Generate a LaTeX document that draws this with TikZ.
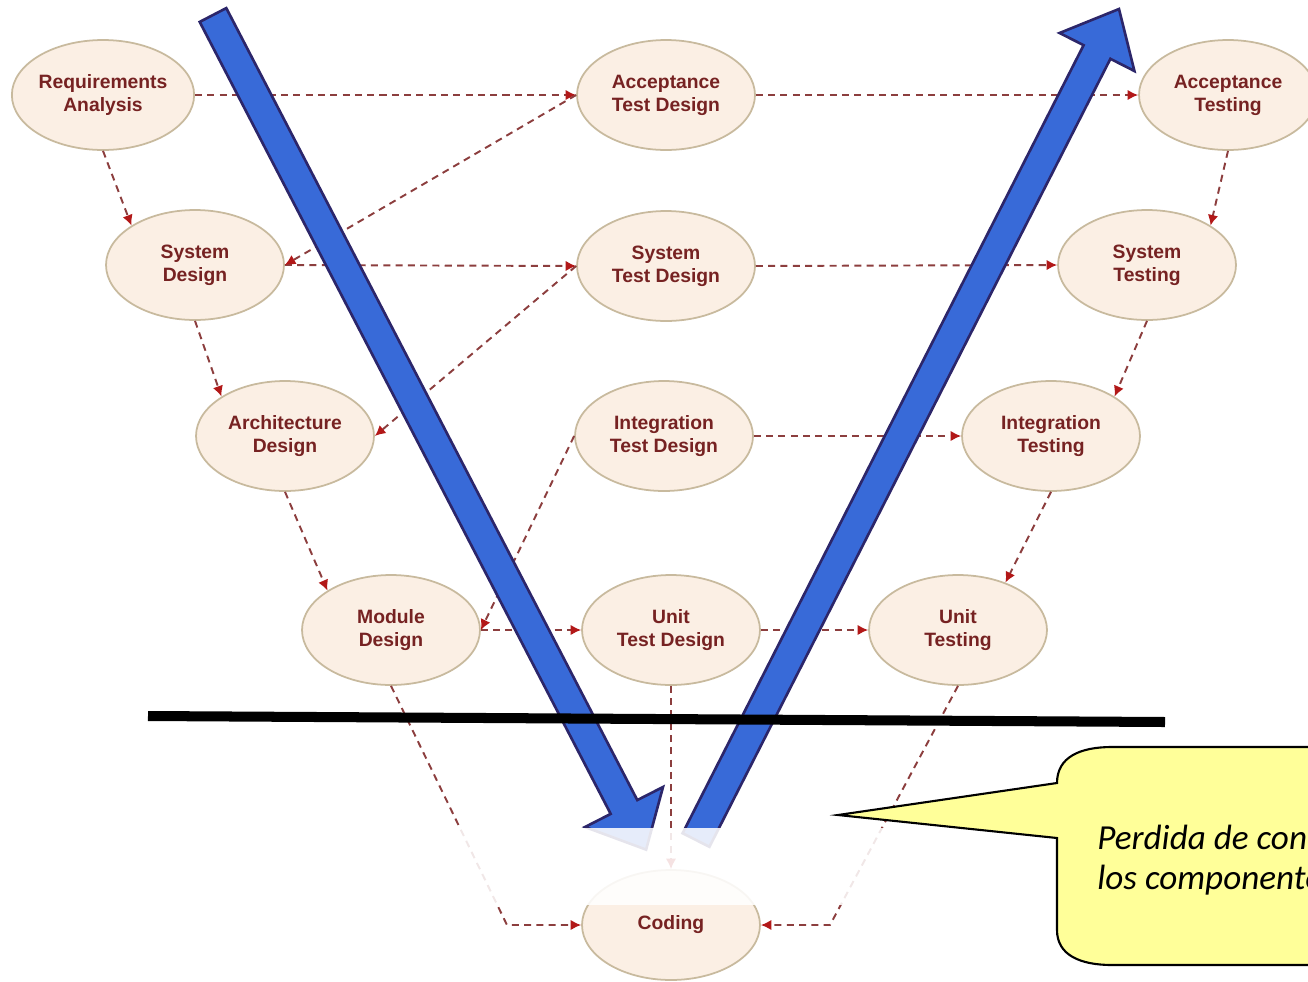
\documentclass[tikz,border=0pt]{standalone}
\usepackage{fontspec}
\setmainfont{Liberation Sans}
\newfontfamily\notafont{Carlito}
\usetikzlibrary{shapes.geometric,arrows.meta}

\definecolor{colfase}{RGB}{251,239,228}
\definecolor{colborde}{RGB}{200,186,158}
\definecolor{coltexto}{RGB}{118,34,34}
\definecolor{collinea}{RGB}{140,62,62}
\definecolor{colpunta}{RGB}{178,24,24}
\definecolor{colazul}{RGB}{56,106,216}
\definecolor{colazulb}{RGB}{44,38,106}
\definecolor{colnota}{RGB}{255,255,153}

\begin{document}
\begin{tikzpicture}[x=0.02cm, y=-0.02cm,
    fase/.style={ellipse, draw=colborde, fill=colfase, line width=1pt,
      minimum width=3.56cm, minimum height=2.2cm, inner sep=0pt, align=center,
      text=coltexto, font=\fontsize{11}{13}\selectfont\bfseries},
    flecha/.style={draw=collinea, line width=1.1pt, dash pattern=on 4pt off 3pt,
      -{Latex[length=6pt,width=6pt,color=colpunta]}},
    bloque/.style={fill=colazul, draw=colazulb, line width=1.5pt, line join=miter}]
    \useasboundingbox (0,0) rectangle (1308,981);
    \clip (0,0) rectangle (1308,981);

    % Dibuja las fases del lado izquierdo
    \node[fase] (req) at (103,95) {Requirements\\Analysis};
    \node[fase] (sd) at (195,265) {System\\Design};
    \node[fase] (ad) at (285,436) {Architecture\\Design};
    \node[fase] (md) at (391,630) {Module\\Design};

    % Dibuja las fases del centro
    \node[fase] (atd) at (666,95) {Acceptance\\Test Design};
    \node[fase] (std) at (666,266) {System\\Test Design};
    \node[fase] (itd) at (664,436) {Integration\\Test Design};
    \node[fase] (utd) at (671,630) {Unit\\Test Design};
    \node[fase] (cod) at (671,925) {Coding};

    % Dibuja las fases del lado derecho
    \node[fase] (at) at (1228,95) {Acceptance\\Testing};
    \node[fase] (st) at (1147,265) {System\\Testing};
    \node[fase] (it) at (1051,436) {Integration\\Testing};
    \node[fase] (ut) at (958,630) {Unit\\Testing};

    \coordinate (mdc) at (507,925);
    \coordinate (utc) at (830,925);

    % Flechas hacia abajo y hacia arriba
    \draw[flecha] (req.south) -- (sd.north west);
    \draw[flecha] (sd.south) -- (ad.north west);
    \draw[flecha] (ad.south) -- (md.north west);
    \draw[flecha] (at.south) -- (st.north east);
    \draw[flecha] (st.south) -- (it.north east);
    \draw[flecha] (it.south) -- (ut.45);

    % Flechas horizontales
    \draw[flecha] (req.east) -- (atd.west);
    \draw[flecha] (atd.east) -- (at.west);
    \draw[flecha] (sd.east) -- (std.west);
    \draw[flecha] (std.east) -- (st.west);
    \draw[flecha] (itd.east) -- (it.west);
    \draw[flecha] (md.east) -- (utd.west);
    \draw[flecha] (utd.east) -- (ut.west);

    % Flechas de las fases de prueba hacia el diseno
    \draw[flecha] (atd.west) -- (sd.east);
    \draw[flecha] (std.west) -- (ad.east);
    \draw[flecha] (itd.west) -- (md.east);

    % Flechas hacia Coding
    \draw[flecha] (md.south) -- (mdc) -- (cod.west);
    \draw[flecha] (utd.south) -- (cod.north);
    \draw[flecha] (ut.south) -- (utc) -- (cod.east);

    % Dibuja las dos flechas azules
    \draw[bloque] (199.7,21.9) -- (610.7,813.9) -- (585,827) -- (646.1,849.6)
      -- (663,787) -- (637.3,800.1) -- (226.3,8.1) -- cycle;
    \draw[bloque] (682.6,833.2) -- (1083.6,45.2) -- (1059.6,33) -- (1119,9)
      -- (1134.4,71) -- (1110.4,58.8) -- (709.4,846.8) -- cycle;

    % Linea negra
    \draw[line width=5.7pt] (148,716) -- (1165,722);

    % Zona borrosa
    \fill[white, opacity=0.88] (455,828) rectangle (885,905);

    % Nota
    \draw[fill=colnota, line width=1.2pt] (1057,838) -- (838,815) -- (1057,783)
      .. controls (1057,757) and (1080,747) .. (1112,747) -- (1340,747)
      -- (1340,965) -- (1112,965) .. controls (1080,965) and (1057,955) .. (1057,930)
      -- cycle;
    \node[anchor=north west, inner sep=0pt, align=left,
      font=\notafont\itshape\fontsize{20}{22.8}\selectfont] (nota) at (1097,825)
      {Perdida de control de\\los componentes};
\end{tikzpicture}
\end{document}
